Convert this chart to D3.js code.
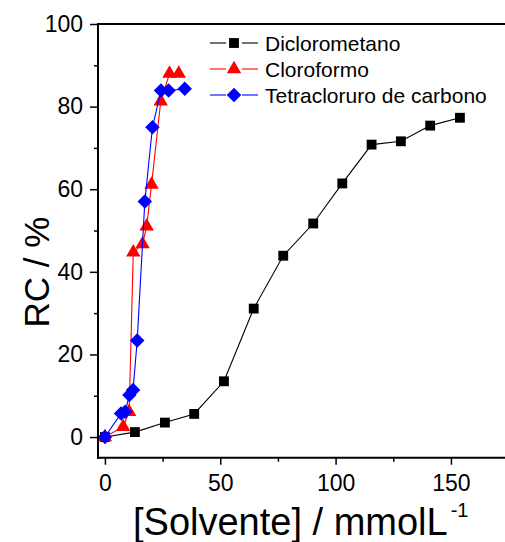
<!DOCTYPE html>
<html>
<head>
<meta charset="utf-8">
<script src="https://cdn.jsdelivr.net/npm/d3@7"></script>
<style>
  html, body { margin: 0; padding: 0; background: #fff; }
  svg { display: block; font-family: "Liberation Sans", Arial, sans-serif; }
</style>
</head>
<body>
<svg id="chart" width="505" height="542"></svg>
<script>
// ---- data ----
const seriesNames = ["Diclorometano", "Cloroformo", "Tetracloruro de carbono"];
const dcmX = [0, 13.0, 26.0, 38.7, 51.6, 64.5, 77.3, 90.3, 102.9, 115.6, 128.3, 141.0, 153.9];
const dcmY = [0, 1.2, 3.5, 5.6, 13.5, 31.1, 43.9, 51.7, 61.4, 70.8, 71.6, 75.4, 77.3];
const cloX = [0, 7.9, 10.5, 12.3, 16.3, 18.1, 20.2, 24.2, 28.0, 32.0];
const cloY = [0, 2.5, 6.1, 44.7, 46.7, 51.0, 61.1, 81.3, 88.0, 88.0];
const tetX = [0, 7.0, 8.8, 10.6, 12.2, 14.0, 17.3, 20.6, 24.3, 27.6, 34.6];
const tetY = [0, 5.7, 6.1, 10.2, 11.4, 23.4, 57.0, 75.0, 83.9, 83.9, 84.3];
const xTicks = [0, 50, 100, 150];
const xMinorTicks = [25, 75, 125, 175];
const yTicks = [0, 20, 40, 60, 80, 100];
const yMinorTicks = [10, 30, 50, 70, 90];
const colors = ["#000000", "#ff0000", "#0000ff"];

// square diamond (rotated square) symbol
const symbolSqDiamond = {
  draw(context, size) {
    const r = Math.sqrt(size / 2);
    context.moveTo(0, -r);
    context.lineTo(r, 0);
    context.lineTo(0, r);
    context.lineTo(-r, 0);
    context.closePath();
  }
};
const symbols = [d3.symbolSquare, d3.symbolTriangle, symbolSqDiamond];

const svg = d3.select("#chart");
const pLeft = 98, pRight = 508.6, pTop = 24, pBottom = 457.7;

const x = d3.scaleLinear().domain([-3, 175]).range([pLeft, pRight]);
const y = d3.scaleLinear().domain([-5, 100]).range([pBottom, pTop]);

const series = [
  {name: seriesNames[0], xs: dcmX, ys: dcmY, color: colors[0], sym: symbols[0], size: 97},
  {name: seriesNames[1], xs: cloX, ys: cloY, color: colors[1], sym: symbols[1], size: 90},
  {name: seriesNames[2], xs: tetX, ys: tetY, color: colors[2], sym: symbols[2], size: 105}
];

const line = d3.line().x(d => x(d[0])).y(d => y(d[1]));

const plot = svg.append("g");
series.forEach(s => {
  const pts = s.xs.map((v, i) => [v, s.ys[i]]);
  plot.append("path")
    .attr("d", line(pts))
    .attr("fill", "none")
    .attr("stroke", s.color)
    .attr("stroke-width", 1.1);
  plot.selectAll(null).data(pts).enter().append("path")
    .attr("transform", d => `translate(${x(d[0])},${y(d[1])})`)
    .attr("d", d3.symbol().type(s.sym).size(s.size))
    .attr("fill", s.color);
});

// frame top border
svg.append("line").attr("x1", pLeft).attr("x2", 505).attr("y1", pTop).attr("y2", pTop)
  .attr("stroke", "#000").attr("stroke-width", 2);

// axes
const fontSize = 23;
const yAxis = svg.append("g").attr("transform", `translate(${pLeft},0)`)
  .call(d3.axisLeft(y).tickValues(yTicks).tickSize(8).tickPadding(7).tickFormat(d3.format("d")));
const yMinor = svg.append("g").attr("transform", `translate(${pLeft},0)`)
  .call(d3.axisLeft(y).tickValues(yMinorTicks).tickSize(4).tickFormat(""));
const xAxis = svg.append("g").attr("transform", `translate(0,${pBottom})`)
  .call(d3.axisBottom(x).tickValues(xTicks).tickSize(7).tickPadding(10).tickFormat(d3.format("d")));
const xMinor = svg.append("g").attr("transform", `translate(0,${pBottom})`)
  .call(d3.axisBottom(x).tickValues(xMinorTicks).tickSize(4).tickFormat(""));

[yAxis, yMinor, xAxis, xMinor].forEach(g => {
  g.select(".domain").remove();
  g.selectAll(".tick line").attr("stroke", "#000").attr("stroke-width", 1.5);
  g.selectAll(".tick text").attr("font-size", fontSize)
    .attr("font-family", "Liberation Sans, Arial, sans-serif").attr("fill", "#000");
});
svg.append("line").attr("x1", pLeft).attr("x2", pLeft).attr("y1", pTop - 1).attr("y2", pBottom + 1)
  .attr("stroke", "#000").attr("stroke-width", 2);
svg.append("line").attr("x1", pLeft - 1).attr("x2", 505).attr("y1", pBottom).attr("y2", pBottom)
  .attr("stroke", "#000").attr("stroke-width", 2);

// axis titles
svg.append("text")
  .attr("transform", `translate(49,272) rotate(-90)`)
  .attr("text-anchor", "middle")
  .attr("font-size", 35)
  .attr("fill", "#000")
  .text("RC / %");

const xt = svg.append("text")
  .attr("x", 133).attr("y", 535)
  .attr("font-size", 38)
  .attr("fill", "#000");
xt.append("tspan").text("[Solvente] / mmolL");
xt.append("tspan").attr("font-size", 20).attr("dx", 3).attr("dy", -18).text("-1");

// legend
const legend = svg.append("g");
series.forEach((s, i) => {
  const cy = 43 + i * 26;
  const g = legend.append("g");
  g.append("line").attr("x1", 210).attr("x2", 226).attr("y1", cy).attr("y2", cy)
    .attr("stroke", s.color).attr("stroke-width", 1.1);
  g.append("line").attr("x1", 242).attr("x2", 258).attr("y1", cy).attr("y2", cy)
    .attr("stroke", s.color).attr("stroke-width", 1.1);
  g.append("path").attr("transform", `translate(234,${cy})`)
    .attr("d", d3.symbol().type(s.sym).size(s.size)).attr("fill", s.color);
  g.append("text").attr("x", 265).attr("y", cy).attr("dy", "0.36em")
    .attr("font-size", 21).attr("fill", "#000").text(s.name);
});
</script>
</body>
</html>
